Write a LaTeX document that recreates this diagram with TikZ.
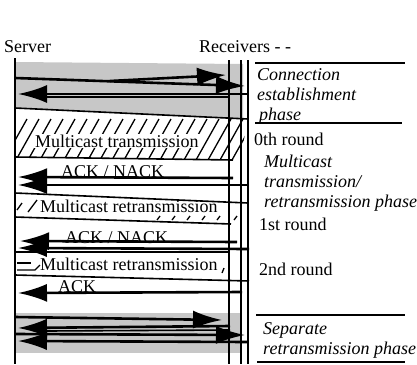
\documentclass[tikz,border=0pt]{standalone}
\usepackage{fontspec}
\setmainfont{Liberation Serif}
\usetikzlibrary{arrows.meta, math}

\begin{document}
\begin{tikzpicture}[x=1pt, y=-1pt,
  font=\fontsize{18}{20}\selectfont,
  life/.style={line width=2pt},
  msg/.style={line width=2.6pt, -{Latex[length=29pt,width=18pt]}},
  rule/.style={line width=1.6pt},
  hatch/.style={line width=1.3pt},
  lbl/.style={anchor=base west, inner sep=1pt},
  phasetext/.style={anchor=north west, inner sep=0pt, align=left, font=\fontsize{18}{20}\selectfont\itshape}]
\tikzmath{
\xs=15;
\xa=229;
\xb=241;
\xc=248;
\yb=364;
}
\useasboundingbox (0,0) rectangle (417,364);

% shaded phases
\fill[color=black!22] (\xs,62) -- (243,64) -- (243,119) -- (\xs,108) -- cycle;
\fill[color=black!22] (\xs,313) rectangle (242,353);

% hatching of the multicast transmission
\begin{scope}
\clip (\xs,108) -- (248,119) -- (240,160) -- (\xs,157) -- cycle;
\foreach \x in {-20,-8,...,250}
  \draw[hatch] (\x,160) -- +(23,-41);
\end{scope}
\foreach \x in {157,172,187,202,217,234}
  \draw[hatch] (\x,220) -- +(3,-4);
\draw[hatch] (17,210) -- +(5,-7);
\draw[hatch] (28,212) -- +(9,-12);

% time lines
\coordinate (srv) at (\xs,58);
\coordinate (rxa) at (\xa,60);
\coordinate (rxb) at (\xb,60);
\coordinate (rxc) at (\xc,60);
\draw[life] (srv) -- (\xs,\yb);
\draw[life] (rxa) -- (\xa,\yb);
\draw[life] (rxb) -- (\xb,\yb);
\draw[life] (rxc) -- (\xc,\yb);

\node[lbl] (server) at (3,52) {Server};
\node[lbl] (receivers) at (198,52) {Receivers - -};

% connection establishment
\draw[msg] (\xs,78) -- (245,86);
\draw[msg] (110,81) -- (226,75);
\draw[msg] (247,94) -- (\xs+3,94);
\draw[rule] (229,97) -- (45,97);
\draw[rule] (\xs,108) -- (248,119);

% 0th round
\node[lbl, fill=white] (mtx) at (34,147) {Multicast transmission};
\draw[rule] (\xs,157) -- (233,160);
\node[lbl] (ack0) at (60,177) {ACK / NACK};
\draw[msg] (233,178) -- (18,177);
\draw[msg] (247,185) -- (18,185);

% 1st round
\draw[rule] (\xs,193) -- (248,203);
\node[lbl] (rtx1) at (39,212) {Multicast retransmission};
\draw[rule] (\xs,217) -- (231,224);
\node[lbl] (ack1) at (64,243) {ACK / NACK};
\draw[msg] (237,242) -- (20,241);
\draw[msg] (249,249) -- (18,248);

% 2nd round
\draw[rule] (\xs,252) -- (230,252);
\draw[hatch] (17,263) -- (31,263);
\draw[hatch] (17,270) -- (35,270) -- +(5,-5);
\node[lbl] (rtx2) at (39,270) {Multicast retransmission};
\draw[hatch] (224,268) -- +(-2,5);
\draw[rule] (\xs,275) -- (249,281);
\node[lbl] (ack2) at (57,292) {ACK};
\draw[msg] (242,292) -- (18,293);

% separate retransmission
\draw[msg] (\xs,317) -- (222,320);
\draw[msg] (230,326) -- (18,328);
\draw[rule] (230,330) -- (47,331);
\draw[msg] (\xs,334) -- (245,335);
\draw[msg] (248,342) -- (18,341);

% phases
\draw[rule] (255,63) -- (405,63);
\node[phasetext] (estab) at (257,68) {Connection\\establishment\\\hspace*{2pt}phase};
\draw[rule] (255,123) -- (402,123);
\node[lbl] (round0) at (253,145) {0th round};
\node[phasetext] (mphase) at (264,155) {Multicast\\transmission/\\retransmission phase};
\node[lbl] (round1) at (258,230) {1st round};
\node[lbl] (round2) at (258,275) {2nd round};
\draw[rule] (256,315) -- (405,315);
\node[phasetext] (sphase) at (263,322) {Separate\\retransmission phase};
\draw[rule] (257,362) -- (405,362);
\end{tikzpicture}
\end{document}
